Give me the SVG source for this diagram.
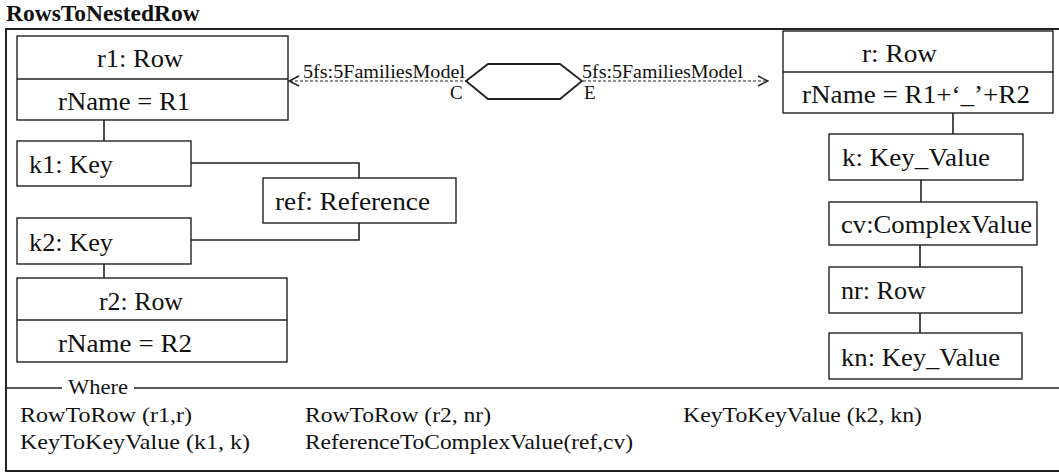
<svg xmlns="http://www.w3.org/2000/svg" width="1059" height="476" viewBox="0 0 1059 476">
<style>
.box{fill:#fff;stroke:#222;stroke-width:1.4}
.ln{fill:none;stroke:#222;stroke-width:1.6}
.t{font-family:"Liberation Serif","Times New Roman",serif;font-size:26px;fill:#111}
.s{font-family:"Liberation Serif","Times New Roman",serif;font-size:19px;fill:#111}
.w{font-family:"Liberation Serif","Times New Roman",serif;font-size:21px;fill:#111}
.dash{fill:none;stroke:#222;stroke-width:1.2;stroke-dasharray:3,2}
</style>
<defs>
<marker id="open" viewBox="0 0 12 12" refX="11" refY="6" markerWidth="12" markerHeight="12" markerUnits="userSpaceOnUse" orient="auto-start-reverse">
<path d="M1,1 L11,6 L1,11" fill="none" stroke="#222" stroke-width="1.5"/>
</marker>
</defs>
<rect width="1059" height="476" fill="#fff"/>
<text x="6" y="21" font-family="Liberation Serif, serif" font-weight="bold" font-size="23.5" fill="#111">RowsToNestedRow</text>
<rect x="6" y="29" width="1070" height="442" fill="none" stroke="#222" stroke-width="2"/>

<g id="connectors">
<path class="ln" d="M104,120 V141"/>
<path class="ln" d="M191,163 H359 V178"/>
<path class="ln" d="M359,223 V240 H191"/>
<path class="ln" d="M104,264 V278"/>
<path class="ln" d="M953,113 V134"/>
<path class="ln" d="M921,180 V202"/>
<path class="ln" d="M920,245 V267"/>
<path class="ln" d="M920,313 V333"/>
<path class="dash" d="M468,81 H289" marker-end="url(#open)"/>
<path class="dash" d="M583,81 H768" marker-end="url(#open)"/>
<text class="s" x="303" y="78" textLength="162" lengthAdjust="spacingAndGlyphs">5fs:5FamiliesModel</text>
<text class="s" x="582" y="78" textLength="161" lengthAdjust="spacingAndGlyphs">5fs:5FamiliesModel</text>
</g>

<g id="hexagon">
<polygon points="466,81 488,64 560,64 582,81 560,99 488,99" fill="none" stroke="#222" stroke-width="1.8"/>
<text class="s" x="450" y="99">C</text>
<text class="s" x="584" y="99">E</text>
</g>

<g id="r1">
<rect class="box" x="17" y="36" width="271" height="84"/>
<path class="ln" d="M17,79 H288" stroke-width="1.4"/>
<text class="t" x="97" y="67" textLength="86" lengthAdjust="spacingAndGlyphs">r1: Row</text>
<text class="t" x="58" y="110" textLength="132" lengthAdjust="spacingAndGlyphs">rName = R1</text>
</g>

<g id="k1">
<rect class="box" x="17" y="141" width="174" height="45"/>
<text class="t" x="29" y="173" textLength="84" lengthAdjust="spacingAndGlyphs">k1: Key</text>
</g>

<g id="ref">
<rect class="box" x="263" y="178" width="193" height="45"/>
<text class="t" x="275" y="210" textLength="155" lengthAdjust="spacingAndGlyphs">ref: Reference</text>
</g>

<g id="k2">
<rect class="box" x="17" y="218" width="174" height="46"/>
<text class="t" x="29" y="251" textLength="84" lengthAdjust="spacingAndGlyphs">k2: Key</text>
</g>

<g id="r2">
<rect class="box" x="17" y="278" width="270" height="84"/>
<path class="ln" d="M17,320 H287" stroke-width="1.4"/>
<text class="t" x="99" y="310" textLength="84" lengthAdjust="spacingAndGlyphs">r2: Row</text>
<text class="t" x="58" y="352" textLength="134" lengthAdjust="spacingAndGlyphs">rName = R2</text>
</g>

<g id="r">
<rect class="box" x="783" y="31" width="270" height="82"/>
<path class="ln" d="M783,72 H1053" stroke-width="1.4"/>
<text class="t" x="862" y="62" textLength="75" lengthAdjust="spacingAndGlyphs">r: Row</text>
<text class="t" x="802" y="103" textLength="228" lengthAdjust="spacingAndGlyphs">rName = R1+‘_’+R2</text>
</g>

<g id="k">
<rect class="box" x="829" y="134" width="194" height="46"/>
<text class="t" x="842" y="166" textLength="148" lengthAdjust="spacingAndGlyphs">k: Key_Value</text>
</g>

<g id="cv">
<rect class="box" x="829" y="202" width="208" height="43"/>
<text class="t" x="841" y="233" textLength="191" lengthAdjust="spacingAndGlyphs">cv:ComplexValue</text>
</g>

<g id="nr">
<rect class="box" x="829" y="267" width="193" height="46"/>
<text class="t" x="841" y="299" textLength="85" lengthAdjust="spacingAndGlyphs">nr: Row</text>
</g>

<g id="kn">
<rect class="box" x="829" y="333" width="193" height="46"/>
<text class="t" x="841" y="366" textLength="159" lengthAdjust="spacingAndGlyphs">kn: Key_Value</text>
</g>

<g id="where">
<path d="M6,388 H62 M134,388 H1059" stroke="#222" stroke-width="1.4" fill="none"/>
<text class="w" x="68" y="394" textLength="60" lengthAdjust="spacingAndGlyphs">Where</text>
<text class="w" x="20" y="422" textLength="172" lengthAdjust="spacingAndGlyphs">RowToRow (r1,r)</text>
<text class="w" x="305" y="422" textLength="186" lengthAdjust="spacingAndGlyphs">RowToRow (r2, nr)</text>
<text class="w" x="683" y="422" textLength="239" lengthAdjust="spacingAndGlyphs">KeyToKeyValue (k2, kn)</text>
<text class="w" x="20" y="449" textLength="230" lengthAdjust="spacingAndGlyphs">KeyToKeyValue (k1, k)</text>
<text class="w" x="305" y="449" textLength="328" lengthAdjust="spacingAndGlyphs">ReferenceToComplexValue(ref,cv)</text>
</g>
</svg>
